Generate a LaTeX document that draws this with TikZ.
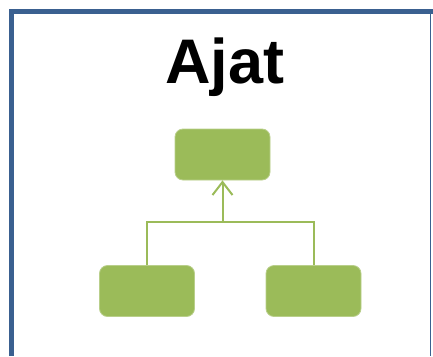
\documentclass[tikz,border=0pt]{standalone}
\usepackage{fontspec}
\setmainfont{Liberation Sans}
\usepackage{xcolor}
\usetikzlibrary{arrows.meta}
\definecolor{framblue}{HTML}{3A6090}
\definecolor{boxgreen}{HTML}{9BBB59}

\begin{document}
\begin{tikzpicture}[x=1pt, y=-1pt,
     box/.style={draw=boxgreen!70!white, line width=.8pt, fill=boxgreen, rounded corners=8pt,
                 minimum width=95pt, minimum height=51pt, inner sep=0pt},
     link/.style={draw=boxgreen, line width=2pt}]
     \useasboundingbox (0,0) rectangle (433,356);

     % frame
     \draw[framblue, line width=5pt] (11.5,356) -- (11.5,11.5) -- (433,11.5);
     \draw[framblue, line width=1.5pt] (430.5,11.5) -- (430.5,356);

     \node[draw=none, anchor=base, font=\bfseries\fontsize{63}{70}\selectfont] (title) at (225,83) {Ajat};

     \node[box] (boss) at (222.5,154.5) {};
     \node[box] (left) at (147,291) {};
     \node[box] (right) at (313.5,291) {};

     \coordinate (join) at (222.5,222);
     \draw[link] (left.north) |- (join) -| (right.north);
     \draw[link, -{Straight Barb[length=13pt, width=20pt]}] (join) -- (boss.south);
\end{tikzpicture}
\end{document}
